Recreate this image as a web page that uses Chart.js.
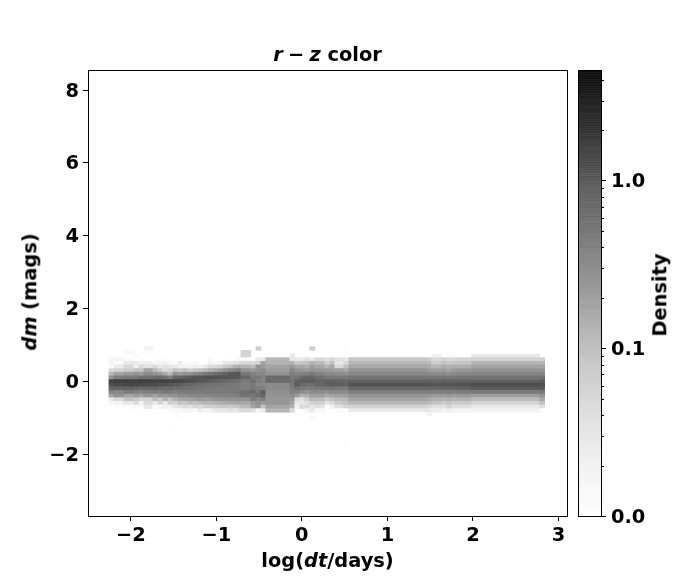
<!DOCTYPE html>
<html>
<head>
<meta charset="utf-8">
<script src="https://cdn.jsdelivr.net/npm/chart.js@4/dist/chart.umd.min.js"></script>
<style>
body { margin: 0; background: #fff; }
#wrap { position: relative; width: 700px; height: 580px; overflow: hidden; font: bold 19.4px "DejaVu Sans", sans-serif; color: #000; }
canvas { position: absolute; left: 0; top: 0; }
.lbl { position: absolute; white-space: pre; line-height: 1; transform: translate(-50%, -50%); }
.rot { transform: translate(-50%, -50%) rotate(-90deg); }
.thin { margin: 0 -1.5px; }
</style>
</head>
<body>
<div id="wrap">
  <canvas id="mainChart" width="700" height="580"></canvas>
  <canvas id="barChart" width="700" height="580"></canvas>
  <div class="lbl" style="left:327.5px;top:55px"><i>r</i><span class="thin"> − </span><i>z</i> color</div>
  <div class="lbl" style="left:327.5px;top:561px">log(<i>dt</i>/days)</div>
  <div class="lbl rot" style="left:30px;top:292px"><i>dm</i> (mags)</div>
  <div class="lbl rot" style="left:660px;top:295px">Density</div>
</div>
<script>
// column edges along log(dt/days)
const logDtEdges = [-2.255, -2.197, -2.080, -1.963, -1.904, -1.846, -1.741, -1.682, -1.624, -1.566, -1.507,
    -1.449, -1.390, -1.332, -1.273, -1.215, -1.157, -1.098, -1.040, -0.981, -0.923, -0.864, -0.806, -0.748, -0.713,
    -0.596, -0.537, -0.479, -0.421, -0.140, -0.082, -0.023, 0.035, 0.093, 0.152, 0.269, 0.327, 0.386, 0.491, 0.549,
    1.472, 1.519, 1.636, 1.694, 1.752, 1.811, 1.986, 2.780, 2.839];

// dm bin centres, top to bottom
const dmCenters = [0.9, 0.8, 0.7, 0.6, 0.5, 0.4, 0.3, 0.2, 0.1, 0, -0.1, -0.2, -0.3, -0.4, -0.5, -0.6, -0.7, -0.8, -0.9, -1.0, -1.1, -1.2,
    -1.3, -1.4, -1.5, -1.6, -1.7];

// density per column, one row per dm bin (short rows just stop early)
const densityColumns = [
    [0,0,0,.015,.02,.012,.05,.12,.3,1.7,1.4,.9,.45,.2,.03,.015],
    [0,0,0,.02,.012,.03,.06,.2,.5,1.9,1.6,1.0,.4,.3,.05,.02,.012],
    [0,.015,0,.012,.03,.05,.08,.25,.55,1.9,1.7,1.0,.55,.2,.1,.03,.012],
    [0,0,.012,0,.03,.02,.1,.3,.6,1.9,1.7,.9,.5,.25,.08,.05,.015],
    [0,0,0,.012,.02,.05,.1,.25,.7,2.0,1.6,.85,.45,.2,.06,.02],
    [.02,.012,0,0,.025,.04,.2,.35,.75,1.9,1.6,.9,.5,.28,.06,.05,.03],
    [0,0,0,.012,.015,.05,.12,.3,.8,1.8,1.5,.9,.55,.2,.12,.03,.012],
    [0,0,0,0,.02,.03,.08,.25,.85,1.8,1.4,.85,.45,.3,.08,.06,.015],
    [0,0,0,.012,.02,.04,.05,.18,.7,1.9,1.4,.8,.6,.25,.15,.03,.02],
    [0,0,0,0,.015,.03,.06,.12,.5,1.8,1.3,.85,.55,.3,.1,.07,.02,.012],
    [0,0,0,0,.012,.03,.1,.3,.9,1.8,1.2,.75,.5,.3,.15,.06,.03,.015,.012,0,0,.012],
    [0,0,0,0,.03,.02,.08,.25,1.0,1.7,1.1,.75,.55,.35,.18,.1,.04,.015,0,.012],
    [0,0,0,0,.012,.02,.1,.3,1.1,1.6,1.0,.7,.55,.35,.2,.08,.05,.02,.012],
    [0,0,0,0,.012,.02,.07,.3,1.2,1.5,.9,.7,.55,.4,.2,.12,.04,.02],
    [0,0,0,0,.015,.025,.09,.4,1.3,1.4,.85,.65,.55,.38,.22,.1,.06,.015],
    [0,0,0,0,0,.02,.1,.45,1.35,1.3,.8,.65,.55,.4,.25,.12,.05,.03,.012],
    [0,0,0,0,.012,.03,.12,.55,1.4,1.25,.75,.6,.55,.42,.22,.14,.06,.02],
    [0,0,0,.015,.02,.05,.15,.65,1.4,1.15,.7,.6,.55,.42,.25,.13,.07,.02],
    [0,0,0,0,.015,.05,.18,.75,1.4,1.05,.68,.58,.55,.45,.28,.15,.07,.03],
    [0,0,0,0,.02,.06,.22,.85,1.35,1.0,.65,.55,.55,.45,.28,.16,.08,.03],
    [0,0,0,.012,.03,.08,.28,1.0,1.3,.9,.6,.55,.55,.45,.3,.17,.09,.03],
    [0,0,0,0,.03,.1,.35,1.15,1.25,.8,.58,.55,.55,.45,.3,.18,.08,.04],
    [0,0,0,.012,.035,.14,.42,1.25,1.2,.75,.55,.55,.58,.48,.3,.2,.09,.03],
    [0,0,0,.015,.04,.17,.5,1.3,1.15,.7,.55,.55,.6,.5,.32,.2,.1,.04],
    [0,.06,.06,.012,.05,.14,.3,.55,.9,.55,.5,.5,.75,.65,.3,.18,.12,.05],
    [0,0,0,.012,.05,.12,.25,.45,.55,.7,.55,.6,.85,.55,.5,.25,.2,.04],
    [.07,0,0,.03,.06,.3,.3,.4,.55,.5,.4,.5,.6,.75,.4,.3,.25,.02],
    [0,0,0,.03,.2,.25,.35,.4,.45,.45,.4,.5,1.1,.9,.5,.25,.1,.03],
    [0,0,0,.13,.14,.2,.24,.3,.85,.85,.36,.36,.33,.3,.27,.27,.2,.14],
    [0,0,.03,.03,.15,.25,.4,.5,.6,.7,.6,.5,.45,.35,.25,.2,.15,.05],
    [0,0,0,.03,.08,.18,.3,.42,.65,1.05,1.15,.65,.45,.25,.05,.03,.02],
    [0,0,0,.03,.09,.18,.28,.45,.85,1.15,.85,.55,.35,.15,.04,.03,.05],
    [0,0,0,.04,.1,.15,.25,.5,1.0,1.15,.75,.5,.3,.16,.07,.04,.05,.02],
    [.07,0,0,.03,.14,.22,.3,.6,.95,1.15,.75,.5,.36,.22,.13,.07,.03,.03,0,.015],
    [0,0,0,.05,.12,.18,.27,.45,.75,1.0,.9,.58,.36,.22,.12,.07,.04,.015],
    [0,0,0,.04,.06,.13,.25,.35,.58,1.05,1.05,.58,.33,.18,.08,.04,.012],
    [0,0,0,.05,.1,.18,.24,.4,.58,1.0,1.15,.65,.38,.2,.1,.05,.02],
    [0,0,0,.04,.03,.05,.22,.35,.58,.95,1.1,.6,.38,.22,.12,.08,.04,.012],
    [.012,0,0,.03,.05,.1,.18,.32,.55,.9,1.0,.55,.35,.22,.13,.1,.06,.012,0,0,0,0,0,0,0,0,.012],
    [0,0,0,.09,.13,.18,.28,.38,.65,1.05,1.35,.95,.5,.28,.2,.13,.06,.03,.012],
    [0,0,0,.08,.12,.17,.25,.36,.62,1.0,1.3,.9,.5,.26,.17,.12,.05,.03,.02],
    [0,0,.02,.05,.07,.13,.22,.34,.62,.95,1.25,.9,.5,.25,.15,.1,.04,.025],
    [0,0,0,.06,.1,.17,.25,.36,.65,1.05,1.3,1.0,.5,.24,.14,.08,.04,.02],
    [0,0,.012,.05,.08,.14,.2,.32,.58,.95,1.25,1.0,.52,.26,.15,.1,.06,.025],
    [0,0,.012,.05,.09,.16,.24,.36,.58,.95,1.3,1.0,.5,.24,.13,.08,.04,.02],
    [0,0,0,.06,.09,.16,.26,.38,.62,1.0,1.35,1.05,.55,.27,.15,.08,.04,.02],
    [0,0,.03,.06,.14,.2,.3,.42,.65,1.05,1.5,1.2,.55,.22,.12,.06,.03,.02],
    [0,0,0,.07,.14,.2,.3,.44,.7,1.1,1.45,1.15,.6,.3,.18,.1,.04,.012]
];

// colour bar scale
const densityMin = 0.01;
const densityMax = 4.58;
const barMajorTicks = [0.01, 0.1, 1];
const barMinorTicks = [0.02, 0.03, 0.04, 0.05, 0.06, 0.07, 0.08, 0.09, 0.2, 0.3, 0.4, 0.5, 0.6, 0.7, 0.8, 0.9, 2, 3, 4];

// Greys colormap, then the 0.9 alpha the plot was made with
const greyStops = [255, 240, 217, 189, 150, 115, 82, 37, 0];
const alphaValue = 0.9;

const fontTick = { family: '"DejaVu Sans", sans-serif', size: 19.4, weight: 'bold' };

function greyAt(density) {
    let t = Math.log(density / densityMin) / Math.log(densityMax / densityMin);
    t = Math.max(0, Math.min(1, t)) * (greyStops.length - 1);
    let i = Math.min(Math.floor(t), greyStops.length - 2);
    return greyStops[i] + (greyStops[i + 1] - greyStops[i]) * (t - i);
}

function minus(value) {
    return String(value).replace('-', '\u2212');
}

// black frame round the plotting area
const framePlugin = {
    id: 'frame',
    afterDraw(chart) {
        const a = chart.chartArea;
        const c = chart.ctx;
        c.save();
        c.strokeStyle = '#000';
        c.lineWidth = 1;
        c.strokeRect(Math.round(a.left) + 0.5, Math.round(a.top) + 0.5, Math.round(a.width), Math.round(a.height));
        c.restore();
    }
};

// shorter minor ticks on the colour bar (tickLength is per axis in Chart.js)
const minorTickPlugin = {
    id: 'minorTicks',
    afterDraw(chart) {
        const s = chart.scales.y;
        const c = chart.ctx;
        c.save();
        c.strokeStyle = '#000';
        c.lineWidth = 1;
        barMinorTicks.forEach(function (v) {
            const py = Math.round(s.getPixelForValue(v)) + 0.5;
            c.beginPath();
            c.moveTo(chart.chartArea.right, py);
            c.lineTo(chart.chartArea.right + 3, py);
            c.stroke();
        });
        c.restore();
    }
};

let cells = [];
densityColumns.forEach(function (col, i) {
    col.forEach(function (d, j) {
        if (d > 0) {
            cells.push({ x: [logDtEdges[i], logDtEdges[i + 1]], y: dmCenters[j], density: d });
        }
    });
});

const axisGrid = { drawOnChartArea: false, drawTicks: true, tickLength: 5, tickColor: '#000', color: '#000', offset: false };

new Chart(document.getElementById('mainChart'), {
    type: 'bar',
    data: {
        datasets: [{
            data: cells,
            barPercentage: 1,
            categoryPercentage: 1,
            borderWidth: 0,
            backgroundColor: function (ctx) {
                if (!ctx.raw) return '#fff';
                const g = Math.round(greyAt(ctx.raw.density) * alphaValue + 255 * (1 - alphaValue));
                return 'rgb(' + g + ',' + g + ',' + g + ')';
            }
        }]
    },
    options: {
        indexAxis: 'y',
        responsive: false,
        animation: false,
        events: [],
        layout: { padding: { top: 70, right: 133, left: 0, bottom: 0 } },
        plugins: { legend: { display: false }, tooltip: { enabled: false } },
        scales: {
            x: {
                type: 'linear', min: -2.5, max: 3.1, offset: false,
                grid: axisGrid, border: { display: false },
                afterFit: function (s) { s.height = 64; },
                ticks: { stepSize: 1, includeBounds: false, color: '#000', font: fontTick, padding: 3, maxRotation: 0, callback: minus }
            },
            y: {
                type: 'linear', min: -3.7, max: 8.55, offset: false,
                grid: axisGrid, border: { display: false },
                afterFit: function (s) { s.width = 88; },
                ticks: { stepSize: 2, includeBounds: false, color: '#000', font: fontTick, padding: 4, labelOffset: 1.5, callback: minus }
            }
        }
    },
    plugins: [framePlugin]
});

// colour bar: log spaced ramp of floating bars
let barSegments = [];
const segmentCount = 256;
for (let i = 0; i < segmentCount; i++) {
    const lo = densityMin * Math.pow(densityMax / densityMin, i / segmentCount);
    const hi = densityMin * Math.pow(densityMax / densityMin, (i + 1) / segmentCount);
    barSegments.push({ x: 'c', y: [lo, hi], mid: Math.sqrt(lo * hi) });
}

new Chart(document.getElementById('barChart'), {
    type: 'bar',
    data: {
        labels: ['c'],
        datasets: [{
            data: barSegments,
            barPercentage: 1,
            categoryPercentage: 1,
            borderWidth: 0,
            backgroundColor: function (ctx) {
                if (!ctx.raw) return '#fff';
                const g = Math.round(greyAt(ctx.raw.mid));
                return 'rgba(' + g + ',' + g + ',' + g + ',' + alphaValue + ')';
            }
        }]
    },
    options: {
        responsive: false,
        animation: false,
        events: [],
        layout: { padding: { top: 70, left: 578, right: 0, bottom: 64 } },
        plugins: { legend: { display: false }, tooltip: { enabled: false } },
        scales: {
            x: { display: false, offset: true },
            y: {
                type: 'logarithmic', position: 'right', min: densityMin, max: densityMax,
                grid: axisGrid, border: { display: false },
                afterFit: function (s) { s.width = 99; },
                afterBuildTicks: function (s) { s.ticks = barMajorTicks.map(function (v) { return { value: v, major: true }; }); },
                ticks: {
                    color: '#000', font: fontTick, padding: 5, autoSkip: false, labelOffset: 1.5,
                    callback: function (v) { return v === densityMin ? '0.0' : Number(v).toFixed(1); }
                }
            }
        }
    },
    plugins: [framePlugin, minorTickPlugin]
});
</script>
</body>
</html>
